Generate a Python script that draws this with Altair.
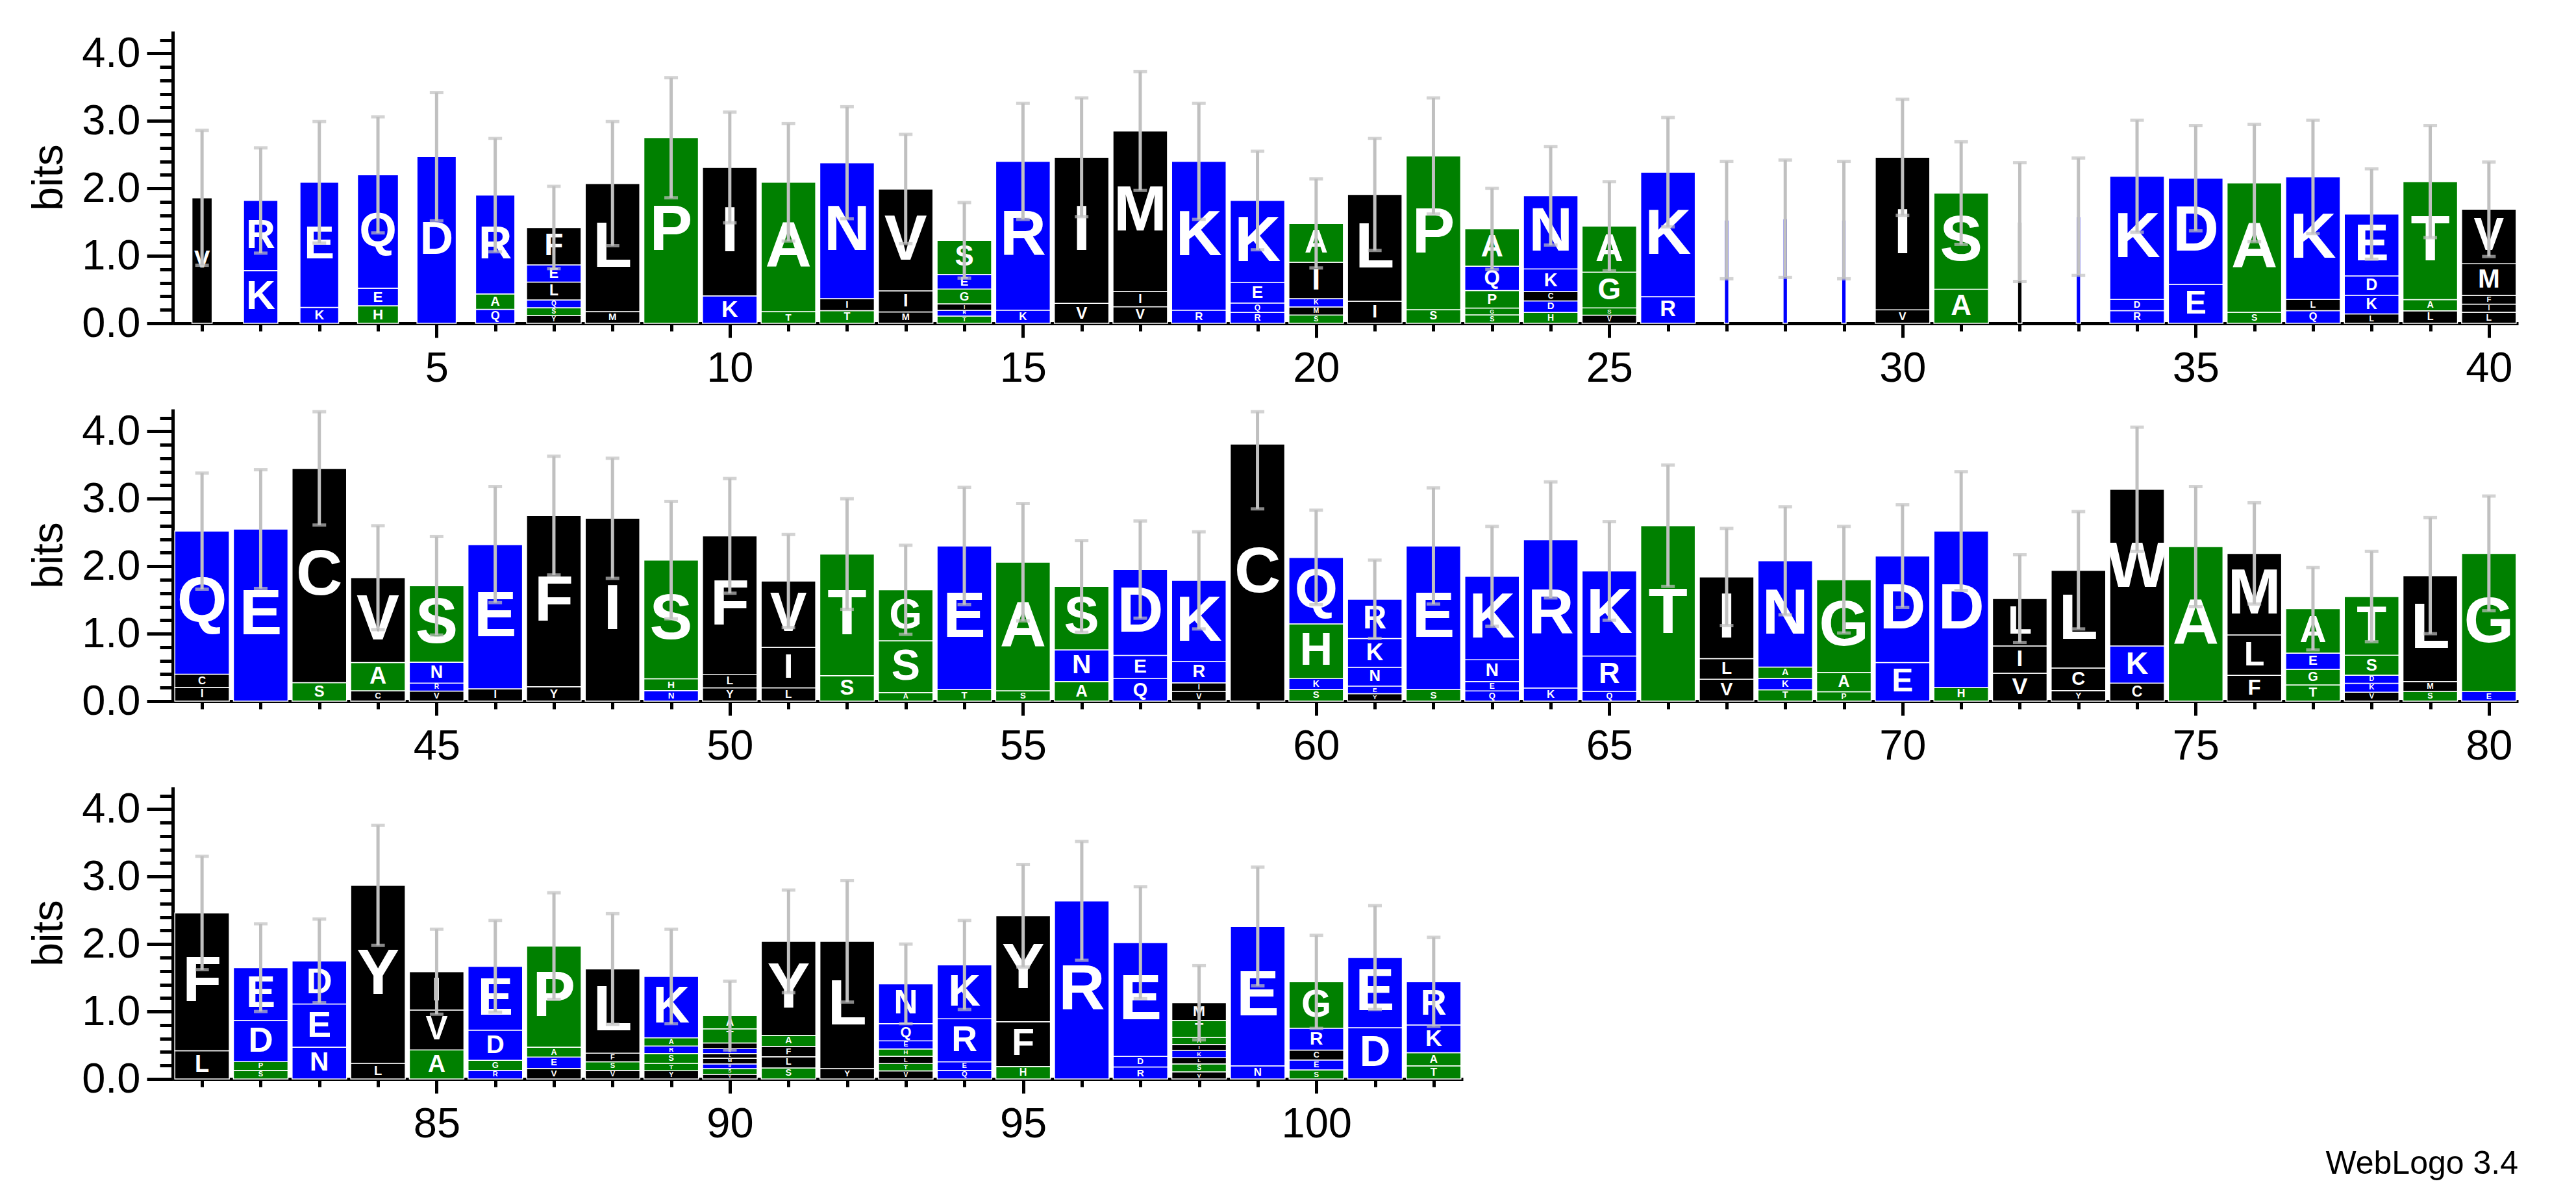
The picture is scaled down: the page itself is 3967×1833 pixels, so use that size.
import altair as alt
import pandas as pd

# ---------------- data (read from the reference logo) ----------------
# letters of each stack, top to bottom, and their heights in bits
stack_letters = [
    "V", "RK", "EK", "QEH", "D", "RAQ", "FELQSY", "LM", "P", "IK",
    "AT", "NIT", "VIM", "SEGIRT", "RK", "IV", "MIV", "KR", "KEQR", "AIKMS",
    "LI", "PS", "AQPGS", "NKCDH", "AGSV", "KR", "K", "Q", "K", "IV",
    "SA", "Y", "N", "KDR", "DE", "AS", "KLQ", "EDKL", "TAL", "VMFIL",
    "QCI", "E", "CS", "VAC", "SNRV", "EI", "FY", "I", "SHN", "FLY",
    "VIL", "TS", "GSA", "ET", "AS", "SNA", "DEQ", "KRIV", "C", "QHKS",
    "RKNEY", "ES", "KNEQ", "RK", "KRQ", "T", "ILV", "NAKT", "GAP", "DE",
    "DH", "LIV", "LCY", "WKC", "A", "MLF", "AEGT", "TSDKV", "LMS", "GE",
    "FL", "EDPS", "DEN", "YL", "IVA", "EDGR", "PAEV", "LFSV", "KARSTY", "ATIKLMRSV",
    "YAFLS", "LY", "NQEHLTV", "KREQ", "YFH", "R", "EDR", "MTAIKLSV", "EN", "GRCES",
    "ED", "RKAT",
]
stack_heights = [
    [1.86], [1.02, 0.77], [1.81, 0.23], [1.62, 0.25, 0.25], [2.47], [1.41, 0.22, 0.20],
    [0.48, 0.22, 0.23, 0.10, 0.10, 0.10], [1.87, 0.17], [2.75], [1.87, 0.40],
    [1.88, 0.17], [1.93, 0.17, 0.18], [1.44, 0.30, 0.16], [0.42, 0.18, 0.18, 0.08, 0.07, 0.09],
    [2.16, 0.19], [2.13, 0.29], [2.32, 0.22, 0.24], [2.16, 0.19], [1.13, 0.28, 0.13, 0.15],
    [0.52, 0.49, 0.11, 0.11, 0.11],
    [1.55, 0.32], [2.25, 0.20], [0.49, 0.32, 0.23, 0.09, 0.11], [1.01, 0.31, 0.13, 0.16, 0.15],
    [0.63, 0.49, 0.10, 0.11], [1.82, 0.39], [1.53], [1.55], [1.53], [2.14, 0.19],
    [1.41, 0.50], [1.50], [1.58], [1.76, 0.16, 0.18], [1.56, 0.57], [1.88, 0.16],
    [1.75, 0.16, 0.18], [0.86, 0.27, 0.26, 0.13], [1.69, 0.16, 0.18], [0.74, 0.43, 0.12, 0.11, 0.15],
    [1.96, 0.18, 0.19], [2.55], [3.12, 0.27], [1.14, 0.38, 0.14], [1.06, 0.29, 0.11, 0.14],
    [2.09, 0.18], [2.49, 0.21], [2.71], [1.69, 0.17, 0.15], [1.99, 0.19, 0.19],
    [0.95, 0.58, 0.19], [1.76, 0.37], [0.71, 0.72, 0.12], [2.08, 0.17], [1.87, 0.15],
    [0.90, 0.45, 0.28], [1.22, 0.33, 0.32], [1.11, 0.29, 0.12, 0.13], [3.81], [0.91, 0.75, 0.15, 0.16],
    [0.52, 0.38, 0.25, 0.10, 0.10], [2.08, 0.17], [1.15, 0.30, 0.13, 0.14], [2.15, 0.19],
    [1.21, 0.50, 0.14], [2.60], [1.15, 0.29, 0.31], [1.50, 0.16, 0.16, 0.16], [1.29, 0.27, 0.13],
    [1.54, 0.56],
    [2.28, 0.20], [0.66, 0.38, 0.39], [1.39, 0.32, 0.15], [2.27, 0.54, 0.26], [2.29],
    [1.17, 0.58, 0.37], [0.60, 0.22, 0.21, 0.22], [0.79, 0.27, 0.11, 0.12, 0.12], [1.51, 0.14, 0.14],
    [2.01, 0.14],
    [2.00, 0.41], [0.73, 0.57, 0.12, 0.12], [0.61, 0.61, 0.45], [2.60, 0.23], [0.54, 0.56, 0.41],
    [0.89, 0.42, 0.14, 0.12], [1.43, 0.14, 0.16, 0.15], [1.17, 0.12, 0.12, 0.12],
    [0.82, 0.11, 0.10, 0.13, 0.10, 0.11], [0.14, 0.15, 0.06, 0.05, 0.05, 0.06, 0.05, 0.06, 0.05],
    [1.27, 0.15, 0.14, 0.15, 0.15], [1.85, 0.15], [0.49, 0.21, 0.10, 0.09, 0.09, 0.09, 0.10],
    [0.75, 0.60, 0.12, 0.12], [1.52, 0.64, 0.18], [2.64], [1.61, 0.15, 0.17],
    [0.20, 0.19, 0.08, 0.07, 0.08, 0.07, 0.09, 0.08], [2.02, 0.19], [0.61, 0.29, 0.13, 0.13, 0.12],
    [1.01, 0.74], [0.59, 0.38, 0.18, 0.18],
]
stack_totals = [
    1.86, 1.82, 2.09, 2.20, 2.47, 1.90, 1.42, 2.07, 2.75, 2.31,
    2.09, 2.38, 1.99, 1.23, 2.40, 2.46, 2.85, 2.40, 1.82, 1.48,
    1.91, 2.48, 1.40, 1.89, 1.44, 2.24, 1.53, 1.55, 1.53, 2.46,
    1.93, 1.50, 1.58, 2.18, 2.15, 2.08, 2.17, 1.62, 2.10, 1.69,
    2.52, 2.55, 3.45, 1.83, 1.71, 2.32, 2.75, 2.71, 2.09, 2.45,
    1.78, 2.18, 1.65, 2.30, 2.06, 1.70, 1.95, 1.79, 3.81, 2.13,
    1.51, 2.30, 1.85, 2.39, 1.93, 2.60, 1.84, 2.08, 1.80, 2.15,
    2.52, 1.52, 1.94, 3.14, 2.29, 2.19, 1.37, 1.55, 1.86, 2.19,
    2.46, 1.65, 1.75, 2.87, 1.59, 1.67, 1.97, 1.63, 1.52, 0.94,
    2.04, 2.04, 1.41, 1.69, 2.42, 2.64, 2.02, 1.13, 2.26, 1.44,
    1.80, 1.44,
]
error_halfwidths = [
    1.00, 0.78, 0.90, 0.86, 0.95, 0.84, 0.61, 0.92, 0.89, 0.82,
    0.87, 0.83, 0.81, 0.56, 0.86, 0.88, 0.88, 0.86, 0.73, 0.66,
    0.83, 0.86, 0.60, 0.73, 0.66, 0.81, 0.87, 0.87, 0.87, 0.86,
    0.76, 0.88, 0.87, 0.83, 0.78, 0.87, 0.84, 0.67, 0.83, 0.70,
    0.86, 0.88, 0.84, 0.77, 0.73, 0.86, 0.88, 0.89, 0.87, 0.85,
    0.69, 0.82, 0.66, 0.87, 0.87, 0.68, 0.72, 0.72, 0.96, 0.70,
    0.58, 0.86, 0.74, 0.86, 0.73, 0.90, 0.72, 0.80, 0.79, 0.76,
    0.88, 0.65, 0.87, 0.92, 0.89, 0.75, 0.61, 0.67, 0.86, 0.85,
    0.84, 0.65, 0.62, 0.89, 0.63, 0.68, 0.79, 0.82, 0.70, 0.51,
    0.76, 0.90, 0.59, 0.66, 0.76, 0.88, 0.83, 0.55, 0.88, 0.69,
    0.77, 0.66,
]
# fraction of the full stack width (columns with many gaps are narrower)
stack_width_fraction = [
    0.37, 0.63, 0.71, 0.75, 0.72, 0.72, 1, 1, 1, 1,
    1, 1, 1, 1, 1, 1, 1, 1, 1, 1,
    1, 1, 1, 1, 1, 1, 0.08, 0.08, 0.08, 1,
    1, 0.08, 0.08, 1, 1, 1, 1, 1, 1, 1,
    1, 1, 1, 1, 1, 1, 1, 1, 1, 1,
    1, 1, 1, 1, 1, 1, 1, 1, 1, 1,
    1, 1, 1, 1, 1, 1, 1, 1, 1, 1,
    1, 1, 1, 1, 1, 1, 1, 1, 1, 1,
    1, 1, 1, 1, 1, 1, 1, 1, 1, 1,
    1, 1, 1, 1, 1, 1, 1, 1, 1, 1,
    1, 1,
]
row_ranges = [(1, 40), (41, 80), (81, 102)]
y_major_ticks = [0.0, 1.0, 2.0, 3.0, 4.0]
y_minor_ticks = [0.0, 0.2, 0.4, 0.6, 0.8, 1.0, 1.2, 1.4, 1.6, 1.8, 2.0, 2.2,
                 2.4, 2.6, 2.8, 3.0, 3.2, 3.4, 3.6, 3.8, 4.0, 4.2]

# hydrophobicity colour scheme
COLORS = {}
for aa in "RKDENQ":
    COLORS[aa] = "#0000ff"
for aa in "SGHTAP":
    COLORS[aa] = "#008000"
for aa in "YVMCLFIW":
    COLORS[aa] = "#000000"

# ---------------- layout constants ----------------
YMAX = 4.33
PANEL_H = 450
COL_PX = 90.3
PX_PER_BIT = PANEL_H / YMAX
GREY = "#c0c0c0"
FONT = "Liberation Sans"

# ---------------- tables ----------------
letter_rows = []
for i, (lets, hs, tot, w) in enumerate(zip(stack_letters, stack_heights, stack_totals, stack_width_fraction)):
    pos = i + 1
    f = tot / sum(hs)
    y = 0.0
    half = 0.465 * w
    for letter, h in reversed(list(zip(lets, hs))):
        hh = h * f
        box_h = hh * PX_PER_BIT
        box_w = 2 * half * COL_PX
        fs = min(box_h / 1.2, box_w / 0.85)
        letter_rows.append(dict(pos=pos, letter=letter, y0=y, y1=y + hh, ymid=y + hh / 2,
                                xl=pos - half, xr=pos + half, color=COLORS[letter],
                                fs=fs, show=box_w >= 20))
        y += hh
letters_df = pd.DataFrame(letter_rows)

err_rows, cap_rows = [], []
for i, (tot, e) in enumerate(zip(stack_totals, error_halfwidths)):
    pos = i + 1
    lo, hi = tot - e, min(tot + e, 4.29)
    err_rows.append(dict(pos=pos, lo=lo, hi=hi))
    cap_rows.append(dict(pos=pos, v=lo))
    cap_rows.append(dict(pos=pos, v=hi))
err_df = pd.DataFrame(err_rows)
cap_df = pd.DataFrame(cap_rows)


def panel(a, b):
    L = letters_df[(letters_df.pos >= a) & (letters_df.pos <= b)]
    T = L[L.show]
    E = err_df[(err_df.pos >= a) & (err_df.pos <= b)]
    C = cap_df[(cap_df.pos >= a) & (cap_df.pos <= b)]
    xs = alt.Scale(domain=[a - 0.5, b + 0.5], nice=False, zero=False)
    ys = alt.Scale(domain=[0, YMAX], nice=False, zero=True)
    major_x = [v for v in range(a, b + 1) if v % 5 == 0]
    minor_x = list(range(a, b + 1))

    rect = alt.Chart(L).mark_rect(stroke="white", strokeWidth=1.5).encode(
        x=alt.X("xl:Q", scale=xs, axis=alt.Axis(
            orient="bottom", values=major_x, tickSize=22, tickWidth=5, tickColor="black",
            domainWidth=5, domainColor="black", labelFontSize=65, labelPadding=16,
            labelColor="black", labelFlush=False, grid=False, title=None)),
        x2="xr:Q",
        y=alt.Y("y0:Q", scale=ys, axis=alt.Axis(
            orient="left", values=y_major_ticks, format=".1f", tickSize=40, tickWidth=5,
            tickColor="black", domainWidth=5, domainColor="black", labelFontSize=65,
            labelPadding=10, labelColor="black", grid=False, title="bits",
            titleFontSize=66, titleFontWeight="normal", titleColor="black", titlePadding=16)),
        y2="y1:Q",
        color=alt.Color("color:N", scale=None),
    )
    minor = alt.Chart(L).mark_point(opacity=0).encode(
        x=alt.X("pos:Q", scale=xs, axis=alt.Axis(
            orient="bottom", values=minor_x, tickSize=12, tickWidth=5, tickColor="black",
            labels=False, domain=False, grid=False, title=None)),
        y=alt.Y("y1:Q", scale=ys, axis=alt.Axis(
            orient="left", values=y_minor_ticks, tickSize=20, tickWidth=5, tickColor="black",
            labels=False, domain=False, grid=False, title=None)),
    )
    text = alt.Chart(T).mark_text(color="white", font=FONT, fontWeight="bold",
                                  baseline="middle", align="center").encode(
        x=alt.X("pos:Q", scale=xs, axis=None),
        y=alt.Y("ymid:Q", scale=ys, axis=None),
        text="letter:N",
        size=alt.Size("fs:Q", scale=None),
    )
    rule = alt.Chart(E).mark_rule(strokeWidth=5, color=GREY).encode(
        x=alt.X("pos:Q", scale=xs, axis=None),
        y=alt.Y("lo:Q", scale=ys, axis=None),
        y2="hi:Q",
    )
    caps = alt.Chart(C).mark_tick(orient="horizontal", size=21, thickness=5, color=GREY).encode(
        x=alt.X("pos:Q", scale=xs, axis=None),
        y=alt.Y("v:Q", scale=ys, axis=None),
    )
    return alt.layer(rect, minor, text, rule, caps).resolve_axis(
        x="independent", y="independent"
    ).properties(width=round((b - a + 1) * COL_PX), height=PANEL_H)


chart = alt.vconcat(*[panel(a, b) for a, b in row_ranges], spacing=30).properties(
    padding={"left": 34, "top": 40, "right": 5, "bottom": 0},
    title=alt.TitleParams("WebLogo 3.4", orient="bottom", anchor="end", fontSize=50,
                          fontWeight="normal", font=FONT, color="black", offset=4),
).configure_view(stroke=None).configure_axis(labelFont=FONT, titleFont=FONT)

chart.save("out.html", embed_options={"renderer": "svg", "actions": False})
